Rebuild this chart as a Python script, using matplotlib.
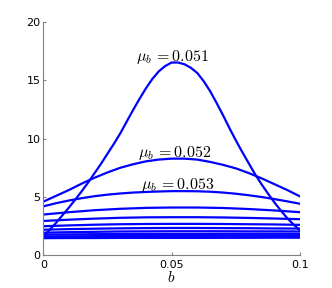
import numpy as np
import matplotlib
matplotlib.use('Agg')
import matplotlib.pyplot as plt

# valores
b_051 = [0.0, 0.0025, 0.005, 0.0075, 0.01, 0.0125, 0.015, 0.0175, 0.02, 0.0225,
         0.025, 0.0275, 0.03, 0.0325, 0.035, 0.0375, 0.04, 0.0425, 0.045, 0.0475,
         0.05, 0.0525, 0.055, 0.0575, 0.06, 0.0625, 0.065, 0.0675, 0.07, 0.0725,
         0.075, 0.0775, 0.08, 0.0825, 0.085, 0.0875, 0.09, 0.0925, 0.095, 0.0975, 0.1]
curva_051 = [1.6, 2.2, 2.8, 3.45, 4.1, 4.8, 5.5, 6.25, 7.05, 7.85,
             8.7, 9.55, 10.45, 11.45, 12.45, 13.4, 14.3, 15.1, 15.75, 16.2,
             16.5, 16.5, 16.35, 16.05, 15.6, 14.9, 14.05, 13.05, 12.0, 10.9,
             9.85, 8.85, 7.9, 6.95, 6.1, 5.3, 4.55, 3.85, 3.2, 2.65, 2.15]

b_meio = [0.0, 0.005, 0.01, 0.015, 0.02, 0.025, 0.03, 0.035, 0.04, 0.045, 0.05,
          0.055, 0.06, 0.065, 0.07, 0.075, 0.08, 0.085, 0.09, 0.095, 0.1]
curva_052 = [4.6, 5.1, 5.6, 6.15, 6.65, 7.1, 7.5, 7.8, 8.05, 8.2, 8.28,
             8.28, 8.2, 8.0, 7.75, 7.45, 7.05, 6.6, 6.1, 5.6, 5.05]
curva_053 = [4.2, 4.47, 4.7, 4.9, 5.07, 5.2, 5.3, 5.38, 5.43, 5.47, 5.5,
             5.5, 5.49, 5.45, 5.38, 5.28, 5.15, 5.0, 4.82, 4.63, 4.42]

b = [0.0, 0.01, 0.02, 0.03, 0.04, 0.05, 0.06, 0.07, 0.08, 0.09, 0.1]
curva_054 = [3.5, 3.7, 3.87, 3.99, 4.07, 4.1, 4.1, 4.06, 3.97, 3.85, 3.7]
curva_055 = [2.95, 3.06, 3.15, 3.22, 3.26, 3.27, 3.27, 3.25, 3.21, 3.16, 3.1]
curva_056 = [2.5, 2.57, 2.63, 2.67, 2.69, 2.7, 2.7, 2.69, 2.67, 2.65, 2.62]
curva_057 = [2.2, 2.25, 2.29, 2.32, 2.34, 2.35, 2.35, 2.34, 2.33, 2.31, 2.3]
curva_058 = [1.95, 1.99, 2.02, 2.05, 2.06, 2.07, 2.07, 2.07, 2.06, 2.06, 2.05]
curva_059 = [1.78, 1.8, 1.82, 1.83, 1.84, 1.84, 1.84, 1.85, 1.85, 1.85, 1.85]
curva_060 = [1.62, 1.64, 1.65, 1.66, 1.67, 1.67, 1.67, 1.68, 1.68, 1.68, 1.68]
curva_061 = [1.48, 1.49, 1.49, 1.5, 1.5, 1.5, 1.5, 1.51, 1.51, 1.52, 1.52]

curvas_planas = [curva_054, curva_055, curva_056, curva_057,
                 curva_058, curva_059, curva_060, curva_061]

rotulos = [r'$\mu_b\,{=}0.051$', r'$\mu_b\,{=}0.052$', r'$\mu_b\,{=}0.053$']
pos_rotulos = [(0.0502, 16.65), (0.0513, 8.45), (0.0523, 5.66)]

plt.rcParams['mathtext.fontset'] = 'cm'

fig = plt.figure(figsize=(3.32, 2.88), dpi=100)
ax = fig.add_axes([0.1305, 0.113, 0.773, 0.812])

ax.plot(b_051, curva_051, color='blue', lw=1.6)
ax.plot(b_meio, curva_052, color='blue', lw=1.6)
ax.plot(b_meio, curva_053, color='blue', lw=1.6)
for c in curvas_planas:
    ax.plot(b, c, color='blue', lw=1.6)

for txt, (x, y) in zip(rotulos, pos_rotulos):
    ax.text(x, y, txt, ha='center', va='baseline', fontsize=11.5)

ax.set_xlim(0, 0.1)
ax.set_ylim(0, 20)
ax.set_xticks([0, 0.05, 0.1])
ax.set_xticklabels(['0', '0.05', '0.1'])
ax.set_yticks([0, 5, 10, 15, 20])

cinza = '#808080'
for lado in ['top', 'right']:
    ax.spines[lado].set_visible(False)
for lado in ['left', 'bottom']:
    ax.spines[lado].set_color(cinza)
    ax.spines[lado].set_linewidth(0.8)
ax.tick_params(axis='x', direction='in', length=2.5, color=cinza, labelsize=8, pad=3.5)
ax.tick_params(axis='y', direction='in', length=2.5, color=cinza, labelsize=8, pad=2)

ax.set_xlabel(r'$b$', fontsize=11, labelpad=0)

fig.savefig('out.png', dpi=100)
